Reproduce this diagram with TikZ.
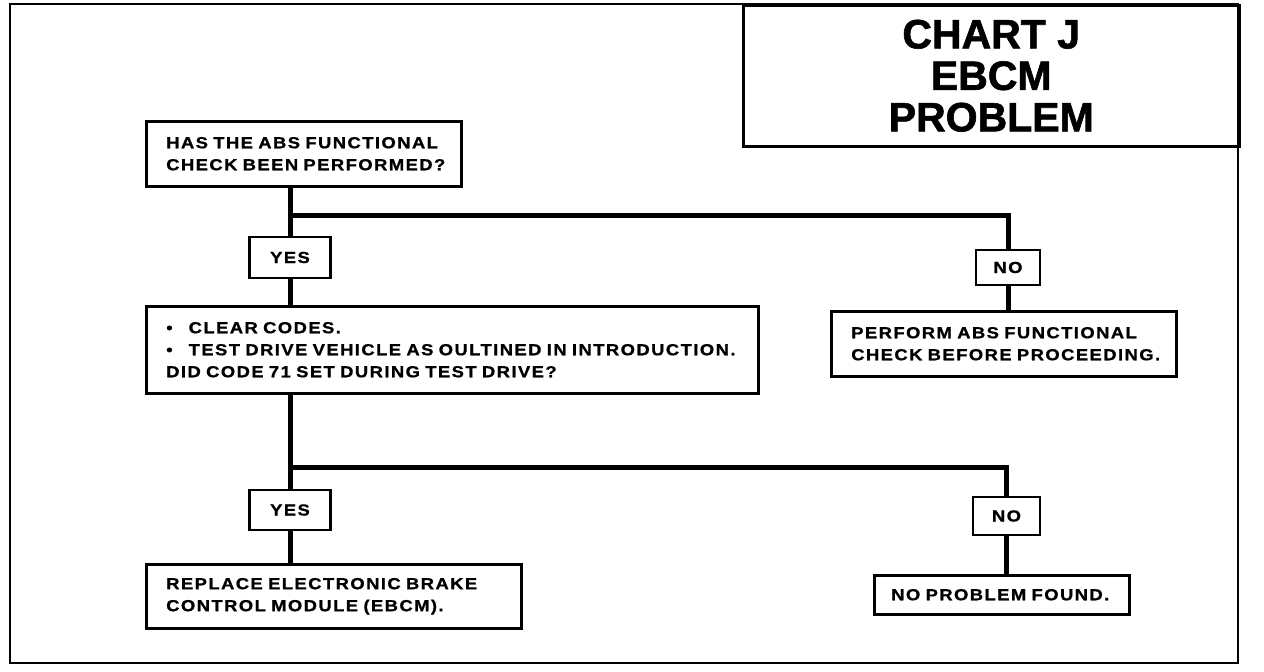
\documentclass[tikz,border=0pt]{standalone}
\usepackage{fontspec}
\setmainfont{Liberation Sans}
\newfontfamily\chartfont[FakeStretch=1.15,LetterSpace=9,FakeBold=1]{Liberation Sans}
\newfontfamily\titlefont[FakeBold=1.5]{Liberation Sans}
\begin{document}
\begin{tikzpicture}[x=1pt,y=-1pt,
  frame/.style={draw,line width=2.5pt},
  box/.style={draw, line width=2.5pt, inner xsep=20pt, inner ysep=3pt, align=left,
    font=\chartfont\bfseries\fontsize{16}{22}\selectfont},
  tag/.style={draw, line width=2.5pt, inner sep=0pt,
    font=\chartfont\bfseries\fontsize{16}{22}\selectfont},
  conn/.style={line width=5pt}]
\useasboundingbox (0,0) rectangle (1264,672);
\draw[line width=2.5pt] (10,4) rectangle (1238,663);
\node[frame, anchor=north west, minimum width=496pt, minimum height=141pt, inner sep=0pt,
  align=center, font=\titlefont\bfseries\fontsize{41}{41.5}\selectfont] (title) at (742,4)
  {CHART J\\EBCM\\PROBLEM};
\node[box, anchor=north west, text width=275pt, minimum height=65pt] (q1) at (145,120)
  {\mbox{HAS THE ABS FUNCTIONAL}\\\mbox{CHECK BEEN PERFORMED?}};
\node[tag, minimum width=81pt, minimum height=41pt] (yes1) at (290,257.5) {YES};
\node[tag, minimum width=64pt, minimum height=35pt] (no1) at (1008,267.5) {NO};
\node[box, anchor=north west, text width=572pt, minimum height=87pt] (box2) at (145,305)
  {\mbox{\textbullet\hspace{16pt}CLEAR CODES.}\\\mbox{\textbullet\hspace{16pt}TEST DRIVE VEHICLE AS OULTINED IN INTRODUCTION.}\\\mbox{DID CODE 71 SET DURING TEST DRIVE?}};
\node[box, anchor=north west, text width=305pt, minimum height=65pt] (perform) at (830,310)
  {\mbox{PERFORM ABS FUNCTIONAL}\\\mbox{CHECK BEFORE PROCEEDING.}};
\node[tag, minimum width=81pt, minimum height=40pt] (yes2) at (290,510) {YES};
\node[tag, minimum width=67pt, minimum height=38pt] (no2) at (1006.5,516) {NO};
\node[box, anchor=north west, text width=335pt, minimum height=64pt] (replace) at (145,563)
  {\mbox{REPLACE ELECTRONIC BRAKE}\\\mbox{CONTROL MODULE (EBCM).}};
\node[box, anchor=north west, inner xsep=17pt, text width=221pt, minimum height=39pt] (nofound) at (873,574)
  {\mbox{NO PROBLEM FOUND.}};
\coordinate (b1) at (290,215);
\coordinate (b2) at (290,467);
\draw[conn] (yes1 |- q1.south) -- (yes1.north);
\draw[conn] (b1) -| (no1.north);
\draw[conn] (yes1.south) -- (yes1 |- box2.north);
\draw[conn] (no1.south) -- (no1 |- perform.north);
\draw[conn] (yes2 |- box2.south) -- (yes2.north);
\draw[conn] (b2) -| (no2.north);
\draw[conn] (yes2.south) -- (yes2 |- replace.north);
\draw[conn] (no2.south) -- (no2 |- nofound.north);
\end{tikzpicture}
\end{document}
